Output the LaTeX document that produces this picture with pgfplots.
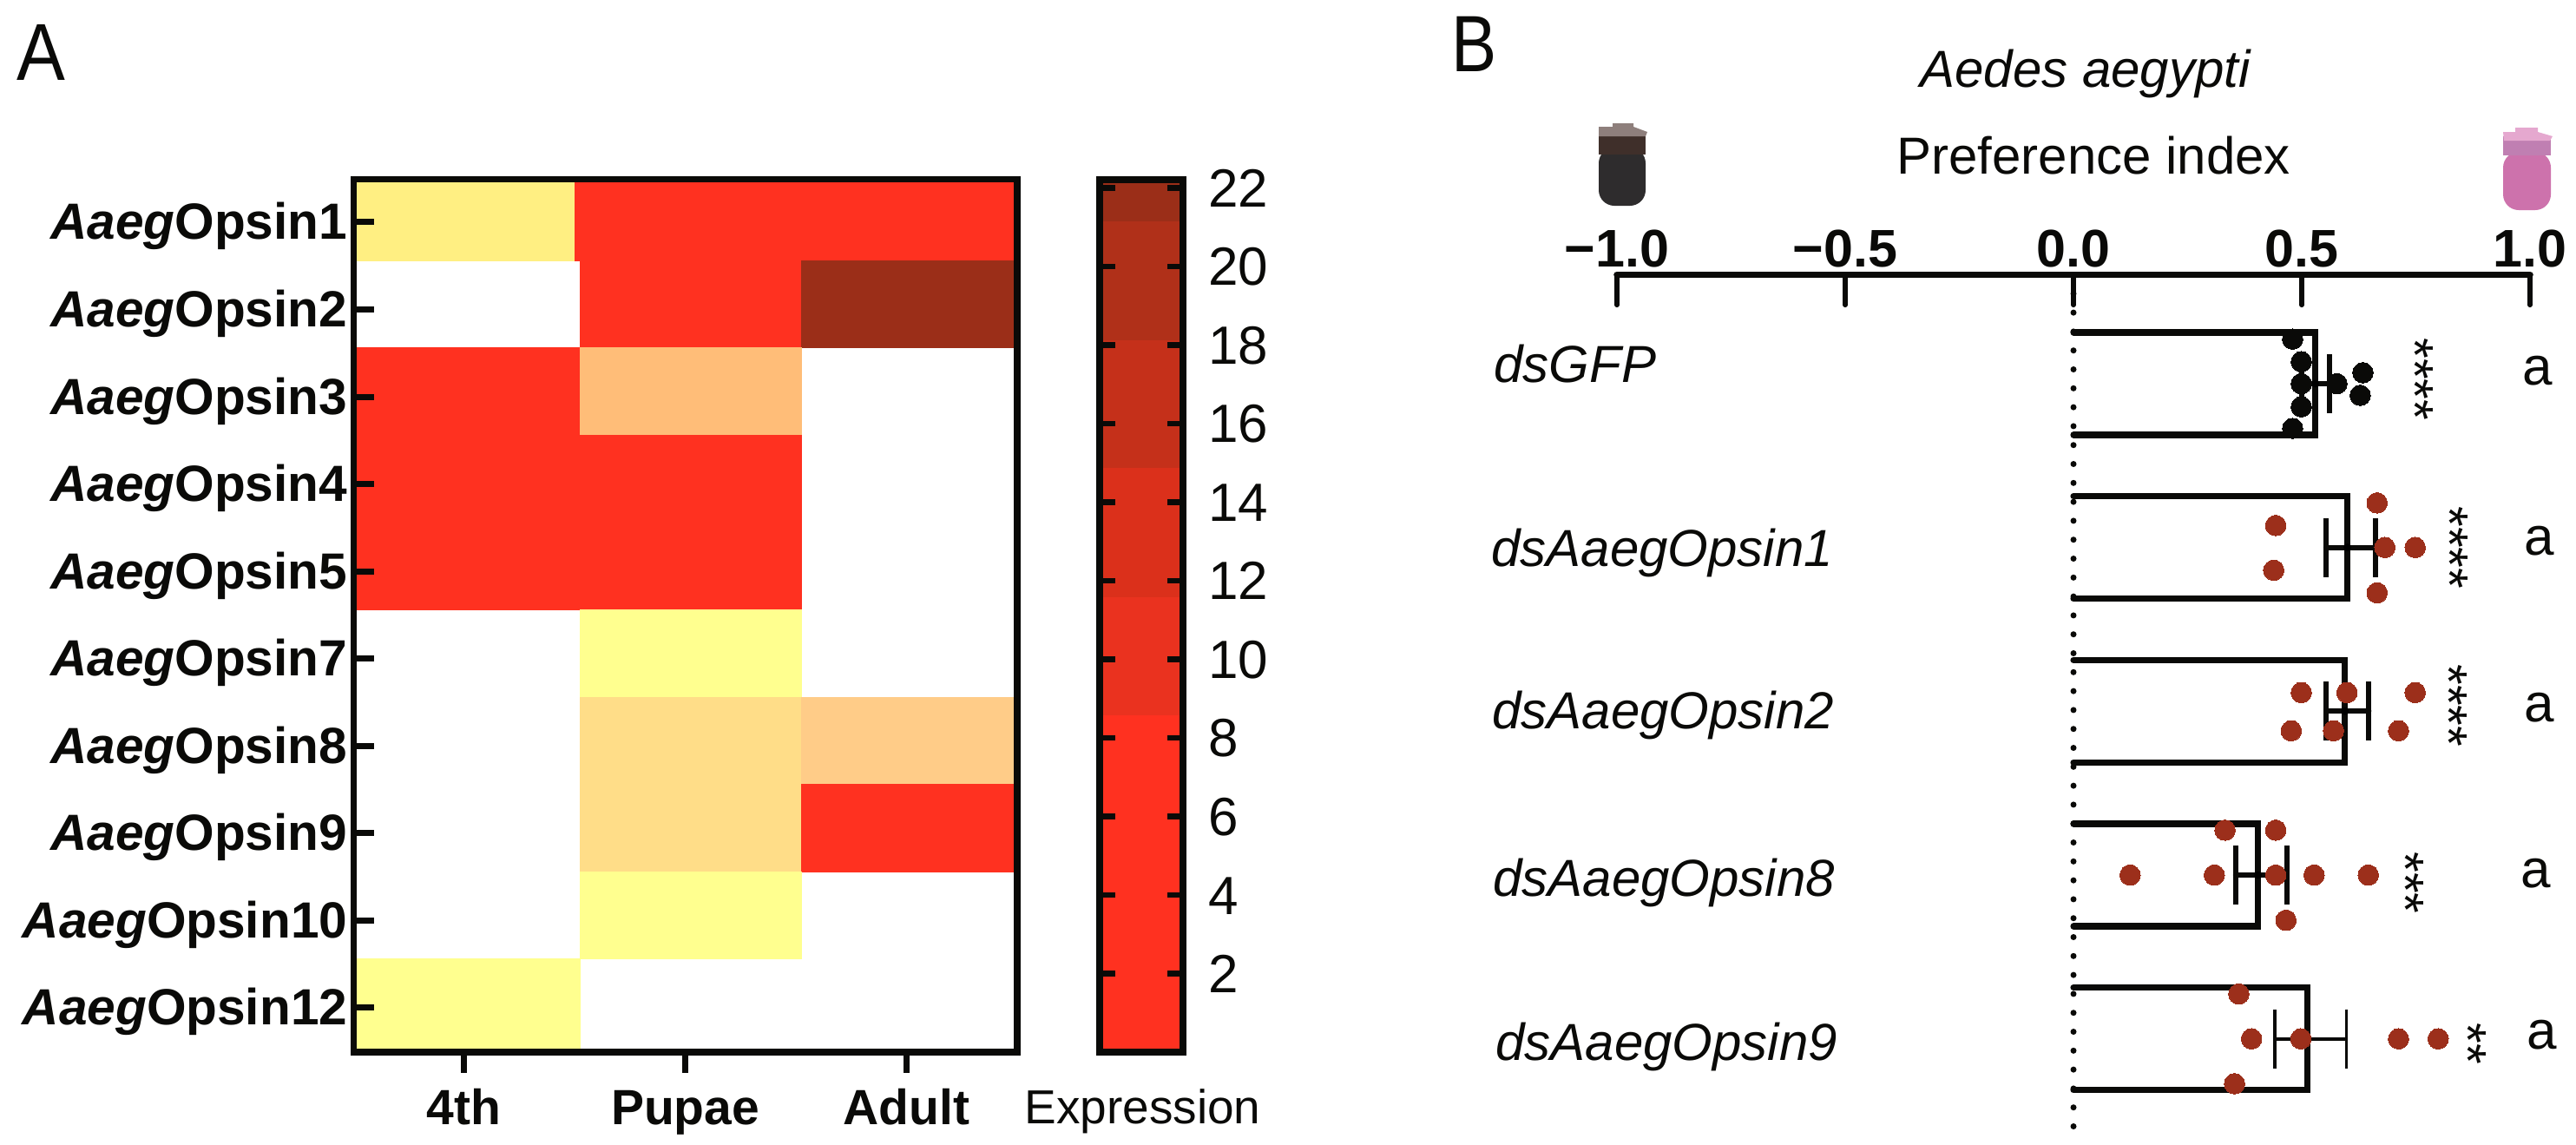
\documentclass[border=0pt]{standalone}
\usepackage{fontspec}
\setmainfont{Liberation Sans}
\usepackage{graphicx}
\usepackage{pgfplots}
\pgfplotsset{compat=1.18}
\definecolor{ink}{HTML}{0A0A08}
\definecolor{hred}{HTML}{FF3120}
\definecolor{hdark}{HTML}{9B2E18}
\definecolor{hpale}{HTML}{FFEF82}
\definecolor{horange}{HTML}{FFBD78}
\definecolor{hyellow}{HTML}{FFFF8F}
\definecolor{hsand}{HTML}{FFDD88}
\definecolor{hpeach}{HTML}{FFCC88}
\definecolor{dotred}{HTML}{9C2F1B}
\definecolor{bara}{HTML}{EA321F}
\definecolor{barb}{HTML}{DB301B}
\definecolor{barc}{HTML}{C5301A}
\definecolor{bard}{HTML}{B03019}
\definecolor{vialA}{HTML}{2E2C2D}
\definecolor{vialB}{HTML}{3F2F2A}
\definecolor{vialC}{HTML}{8E7F7C}
\definecolor{vialD}{HTML}{CD72AC}
\definecolor{vialE}{HTML}{C07FB2}
\definecolor{vialF}{HTML}{E5A8CF}
% one filled rectangle of the heat map / colour bar
\newcommand{\cell}[5]{\addplot[fill=#5,draw=#5,line width=0.2pt,forget plot] coordinates {(#1,#3)(#2,#3)(#2,#4)(#1,#4)} -- cycle;}
\newcommand{\fs}[1]{\fontsize{#1}{#1}\selectfont}
% preference index bars: open at the zero line, half height .3128 around the row
\newcommand{\openbar}[2]{\addplot[ink,line width=3.6pt,line cap=round,line join=miter] coordinates {(0,#1-0.3128)(#2,#1-0.3128)(#2,#1+0.3128)(0,#1+0.3128)};}
\begin{document}
\begin{tikzpicture}
\useasboundingbox (0,0) rectangle (1484pt,-659pt);

% panel A heat map
\begin{axis}[
  at={(203.65pt,-606pt)},anchor=south west,
  scale only axis,width=382.35pt,height=502.75pt,
  xmin=0,xmax=3,ymin=0,ymax=10,y dir=reverse,
  axis on top,
  axis line style={ink,line width=3.6pt,line join=miter},
  xtick={0.5,1.5,2.5},xticklabels={\textbf{4th},\textbf{Pupae},\textbf{Adult}},
  ytick={0.492,1.492,2.492,3.492,4.492,5.492,6.492,7.492,8.492,9.492},
  yticklabels={\textbf{\textit{Aaeg}Opsin1},\textbf{\textit{Aaeg}Opsin2},\textbf{\textit{Aaeg}Opsin3},\textbf{\textit{Aaeg}Opsin4},\textbf{\textit{Aaeg}Opsin5},\textbf{\textit{Aaeg}Opsin7},\textbf{\textit{Aaeg}Opsin8},\textbf{\textit{Aaeg}Opsin9},\textbf{\textit{Aaeg}Opsin10},\textbf{\textit{Aaeg}Opsin12}},
  xtick pos=bottom,ytick pos=left,
  xtick align=outside,ytick align=inside,
  major tick length=11.75pt,
  tick style={ink,line width=3.5pt},
  x tick label style={font=\fs{28.5},text=ink,anchor=base,yshift=-30pt},
  y tick label style={font=\fs{29.3},text=ink,anchor=base east,yshift=-10pt},
]
\cell{0}{1.001}{0}{0.93}{hpale}
\cell{1.001}{2.025}{0}{0.93}{hred}
\cell{2.025}{3}{0}{0.93}{hred}
\cell{1.025}{2.025}{0.93}{1.93}{hred}
\cell{2.025}{3}{0.93}{1.93}{hdark}
\cell{0}{1.025}{1.93}{2.93}{hred}
\cell{1.025}{2.025}{1.93}{2.93}{horange}
\cell{0}{2.025}{2.93}{3.93}{hred}
\cell{0}{2.025}{3.93}{4.93}{hred}
\cell{1.025}{2.025}{4.93}{5.93}{hyellow}
\cell{1.025}{2.025}{5.93}{6.93}{hsand}
\cell{2.025}{3}{5.93}{6.93}{hpeach}
\cell{1.025}{2.025}{6.93}{7.93}{hsand}
\cell{2.025}{3}{6.93}{7.93}{hred}
\cell{1.025}{2.025}{7.93}{8.93}{hyellow}
\cell{0}{1.025}{8.93}{10}{hyellow}
\end{axis}

% panel A colour bar
\begin{axis}[
  at={(633.6pt,-606pt)},anchor=south west,
  scale only axis,width=47.9pt,height=502.75pt,
  xmin=0,xmax=1,ymin=0,ymax=22.22,
  axis on top,
  axis line style={ink,line width=4pt,line join=miter},
  xtick=\empty,
  ytick={2,4,...,22},
  ytick pos=both,yticklabel pos=right,ytick align=inside,
  major tick length=9pt,
  tick style={ink,line width=3.2pt},
  tick label style={font=\fs{31},text=ink,anchor=base west,xshift=11pt,yshift=-11pt,/pgf/number format/assume math mode=true},
]
\cell{0}{1}{0}{8.6}{hred}
\cell{0}{1}{8.6}{11.6}{bara}
\cell{0}{1}{11.6}{14.9}{barb}
\cell{0}{1}{14.9}{18.14}{barc}
\cell{0}{1}{18.14}{21.17}{bard}
\cell{0}{1}{21.17}{22.22}{hdark}
\end{axis}

% panel B
\begin{axis}[
  at={(931.5pt,-649pt)},anchor=south west,
  scale only axis,width=526pt,height=490.75pt,
  xmin=-1,xmax=1,ymin=-0.665,ymax=4.537,y dir=reverse,
  clip=false,
  axis x line*=top,axis y line=none,
  x axis line style={ink,line width=3.8pt,line cap=round,-},
  xtick={-1,-0.5,0,0.5,1},
  xticklabels={\textbf{−1.0},\textbf{−0.5},\textbf{0.0},\textbf{0.5},\textbf{1.0}},
  xtick align=inside,
  major tick length=17.5pt,
  tick style={ink,line width=2.6pt,line cap=round},
  x tick label style={font=\fs{30.5},text=ink,anchor=base,yshift=4.75pt},
]
\addplot[ink,line width=3.5pt,line cap=round,dash pattern=on 0pt off 10.9pt] coordinates {(0,-0.665)(0,4.537)};
\openbar{0}{0.530}
\openbar{1}{0.600}
\openbar{2}{0.5945}
\openbar{3}{0.4044}
\openbar{4}{0.5122}
% mean and SEM
\addplot[only marks,mark=none,error bars/.cd,x dir=both,x explicit,error bar style={ink,line width=3pt,line cap=round},error mark options={ink,line width=3pt,mark size=17pt,rotate=90}] table[x=m,y=r,x error plus=p,x error minus=n] {
m r p n
0.530 0 0.030 0.030
0.600 1 0.062 0.047
0.5945 2 0.0525 0.0405
0.4044 3 0.0626 0.0494
};
\addplot[only marks,mark=none,error bars/.cd,x dir=both,x explicit,error bar style={ink,line width=1.8pt},error mark options={ink,line width=1.8pt,mark size=17pt,rotate=90}] table[x=m,y=r,x error plus=p,x error minus=n] {
m r p n
0.5122 4 0.0855 0.0712
};
% individual points
\addplot[only marks,ink,mark=*,mark size=5.9pt,mark options={fill=ink,draw=ink,line width=0pt}] table {
0.480 -0.272
0.499 -0.134
0.499 0
0.499 0.141
0.480 0.273
0.577 0
0.634 -0.067
0.628 0.071
};
\addplot[only marks,dotred,mark=*,mark size=5.9pt,mark options={fill=dotred,draw=dotred,line width=0pt}] table {
0.665 0.728
0.443 0.866
0.682 1
0.7485 1
0.4386 1.139
0.665 1.277
0.499 1.886
0.599 1.886
0.7485 1.886
0.477 2.119
0.5696 2.119
0.712 2.119
0.332 2.726
0.443 2.726
0.124 3
0.3086 3
0.443 3
0.527 3
0.6458 3
0.4654 3.276
0.362 3.726
0.39 4
0.498 4
0.712 4
0.7989 4
0.3527 4.274
};
\end{axis}

\begin{scope}[x=0.5pt,y=-0.5pt]
% panel letters, header text and row labels
\node[anchor=base west,inner sep=0,text=ink,font=\fs{46.5}] at (19,92) {\scalebox{0.9}[1]{A}};
\node[anchor=base west,inner sep=0,text=ink,font=\fs{46}] at (1672,82) {\scalebox{0.85}[1]{B}};
\node[anchor=base west,inner sep=0,text=ink,font=\fs{27.5}] at (1180,1294) {Expression};
\node[anchor=base west,inner sep=0,text=ink,font=\fs{30}\itshape] at (2212,100) {Aedes aegypti};
\node[anchor=base west,inner sep=0,text=ink,font=\fs{30}] at (2185,200) {Preference index};
\begin{scope}[every node/.style={anchor=base west,inner sep=0,text=ink,font=\fs{30}\itshape}]
\node at (1721,440) {dsGFP};
\node at (1718,652) {dsAaegOpsin1};
\node at (1719,839) {dsAaegOpsin2};
\node at (1720,1032) {dsAaegOpsin8};
\node at (1723,1221) {dsAaegOpsin9};
\end{scope}
\begin{scope}[every node/.style={anchor=base west,inner sep=0,text=ink,font=\fs{31}}]
\node at (2906,443) {a};
\node at (2908,639) {a};
\node at (2908,831) {a};
\node at (2904,1022) {a};
\node at (2911,1208) {a};
\end{scope}
% significance stars, rotated
\begin{scope}[every node/.style={rotate=-90,inner sep=0,text=ink,font=\fs{30.5}}]
\node at (2782,437) {****};
\node at (2822,631) {****};
\node at (2821,813) {****};
\node at (2771,1017) {***};
\node at (2843,1202) {**};
\end{scope}

% choice vials
\fill[vialA,rounded corners=9] (1842,170) -- (1842,237) -- (1896,237) -- (1896,170) -- cycle;
\fill[vialB] (1842,152) rectangle (1896,178);
\fill[vialC] (1842,146) -- (1858,146) -- (1858,142) -- (1882,142) -- (1882,146) -- (1898,152) -- (1896,157) -- (1842,157) -- cycle;
\fill[vialD,rounded corners=9] (2884,175) -- (2884,242) -- (2939,242) -- (2939,175) -- cycle;
\fill[vialE] (2884,157) rectangle (2939,179);
\fill[vialF] (2884,152) -- (2898,152) -- (2898,147) -- (2924,147) -- (2924,152) -- (2941,157) -- (2938,162) -- (2885,162) -- cycle;
\end{scope}
\end{tikzpicture}
\end{document}
